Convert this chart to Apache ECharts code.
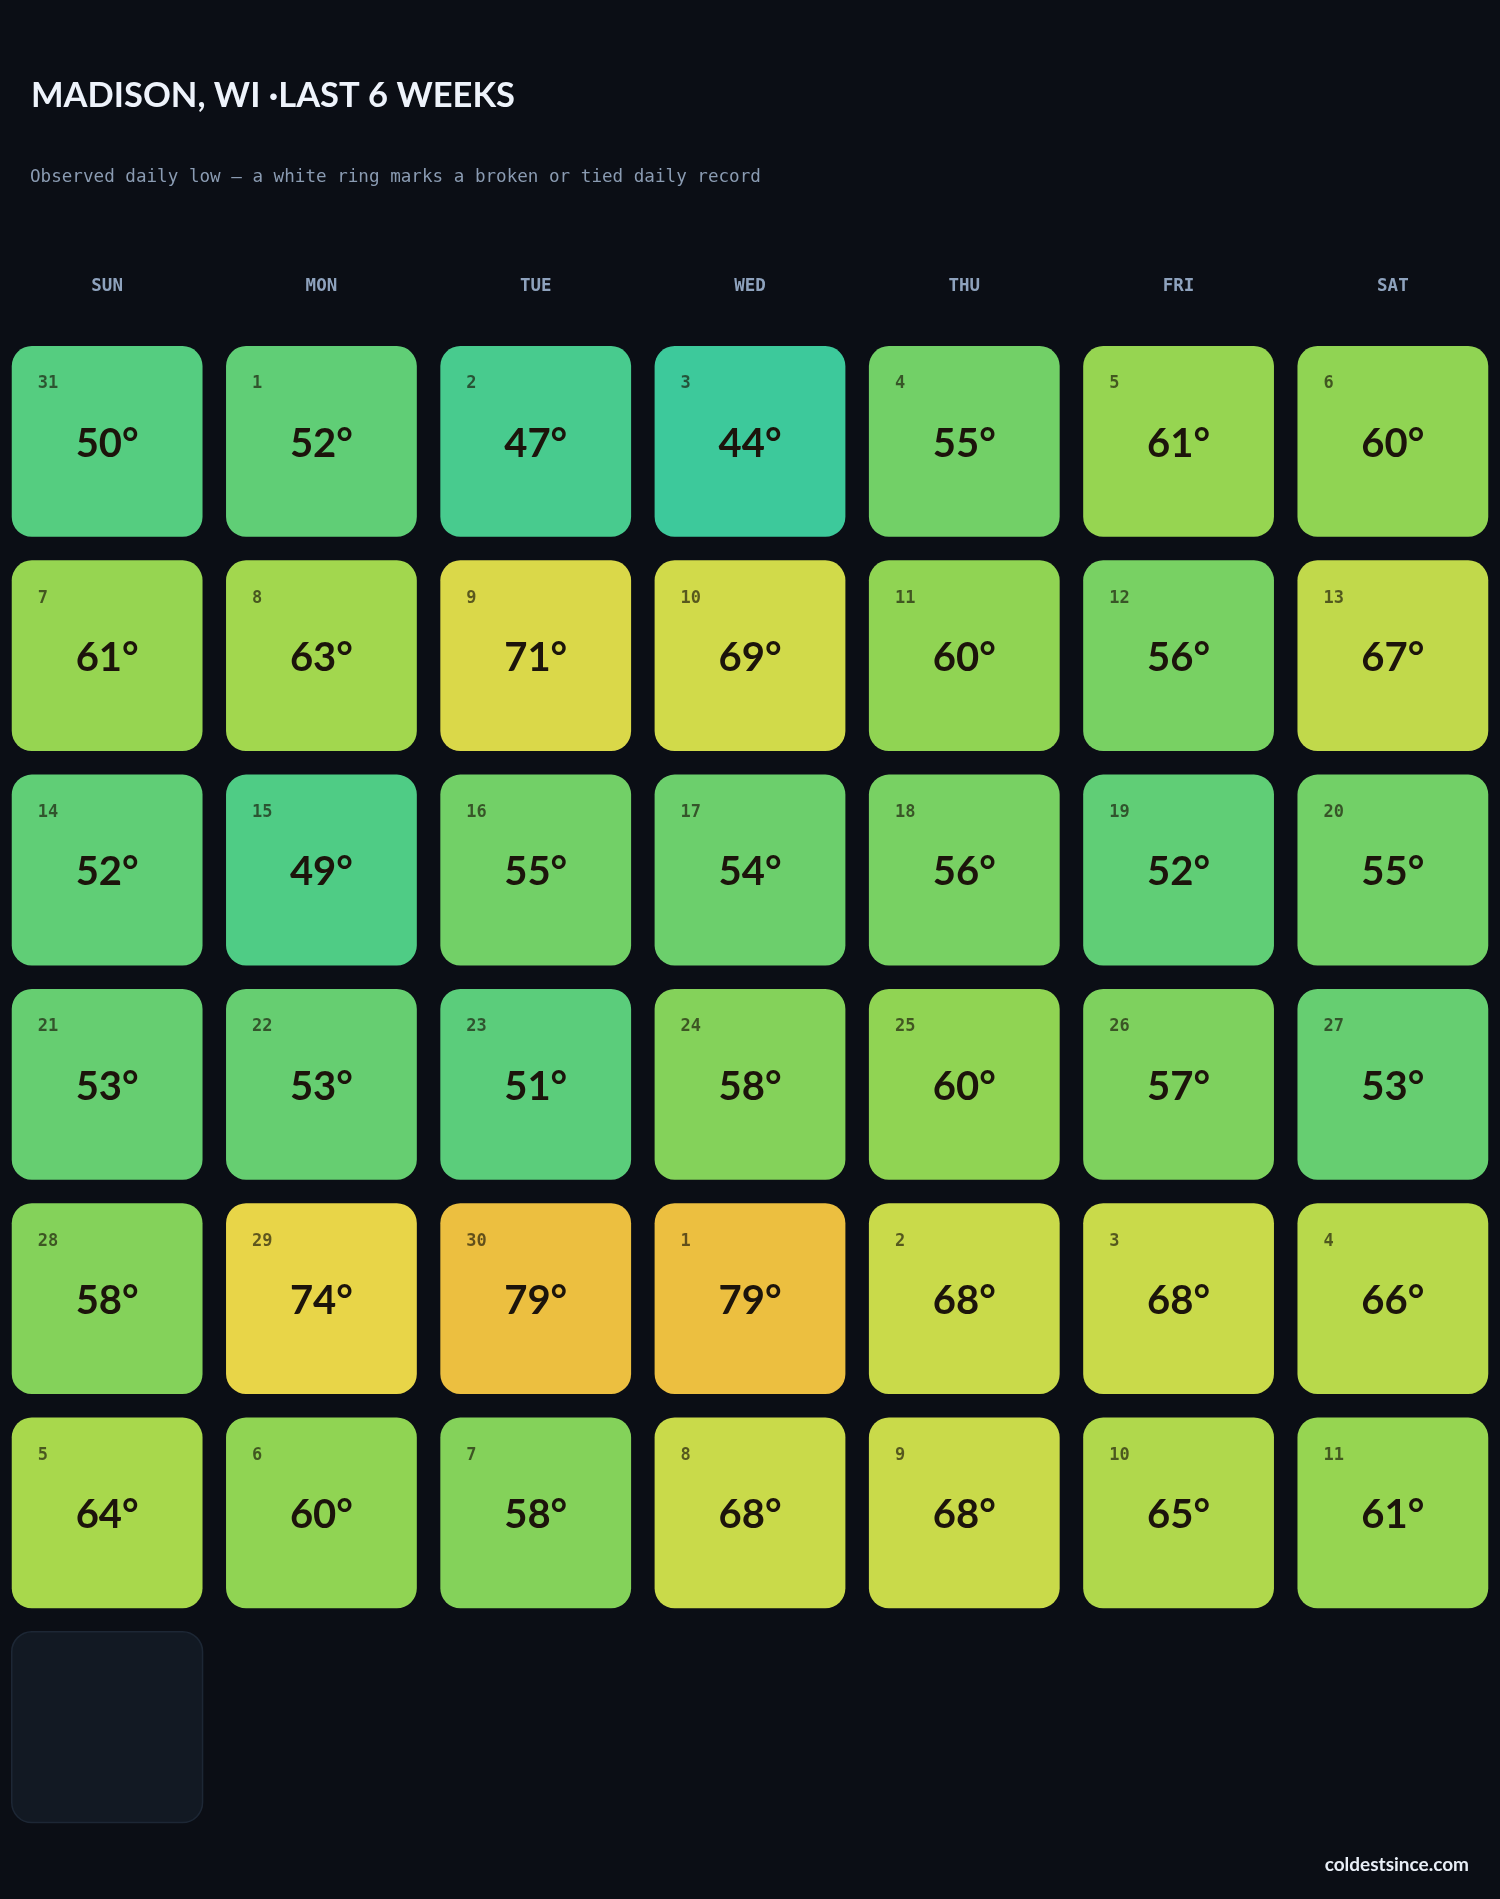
<!DOCTYPE html>
<html>
<head>
<meta charset="utf-8">
<title>Madison, WI · last 6 weeks</title>
<script src="https://cdn.jsdelivr.net/npm/echarts@6/dist/echarts.min.js"></script>
<style>
  html, body { margin: 0; padding: 0; background: #0b0e15; }
  #chart { width: 1500px; height: 1899px; }
</style>
</head>
<body>
<div id="chart"></div>
<script>
// weekday headers (x axis)
const weekdays = ['SUN', 'MON', 'TUE', 'WED', 'THU', 'FRI', 'SAT']
// weeks shown top to bottom (y axis) - last row is the current, unfinished week
const weeks = ['W1', 'W2', 'W3', 'W4', 'W5', 'W6', 'W7']
// day of month for each cell, Sunday first
const dayNumbers = [
  31, 1, 2, 3, 4, 5, 6,
  7, 8, 9, 10, 11, 12, 13,
  14, 15, 16, 17, 18, 19, 20,
  21, 22, 23, 24, 25, 26, 27,
  28, 29, 30, 1, 2, 3, 4,
  5, 6, 7, 8, 9, 10, 11,
  12
]
// observed daily low, °F (null = not observed yet)
const lows = [
  50, 52, 47, 44, 55, 61, 60,
  61, 63, 71, 69, 60, 56, 67,
  52, 49, 55, 54, 56, 52, 55,
  53, 53, 51, 58, 60, 57, 53,
  58, 74, 79, 79, 68, 68, 66,
  64, 60, 58, 68, 68, 65, 61,
  null
]
// colour ramp for the lows, from coolest to warmest
const rampMin = 44
const rampMax = 79
const rampColors = ['#3dc99b', '#4fcc85', '#6ccf6c', '#8ad355', '#a8d84c', '#d1da4a', '#e8d548', '#ecbf40']

const cellData = dayNumbers.map((d, i) => [i % 7, Math.floor(i / 7), lows[i], d])

const chart = echarts.init(document.getElementById('chart'))

const renderCell = (params, api) => {
  const center = api.coord([api.value(0), api.value(1)])
  const size = api.size([1, 1])
  const w = size[0] - 23.5
  const h = size[1] - 23.5
  const x0 = center[0] - w / 2
  const y0 = center[1] - h / 2
  const low = api.value(2)
  if (low == null || isNaN(low)) {
    return {
      type: 'rect',
      shape: { x: x0, y: y0, width: w, height: h, r: 20 },
      style: { fill: '#121923', stroke: '#1d2735', lineWidth: 1.5 }
    }
  }
  return {
    type: 'group',
    children: [
      {
        type: 'rect',
        shape: { x: x0, y: y0, width: w, height: h, r: 20 },
        style: { fill: api.visual('color') }
      },
      {
        type: 'text',
        style: {
          x: x0 + 26,
          y: y0 + 38,
          text: String(api.value(3)),
          fill: 'rgba(24, 22, 8, 0.66)',
          font: 'bold 17px "DejaVu Sans Mono", monospace',
          verticalAlign: 'middle',
          align: 'left'
        }
      },
      {
        type: 'text',
        style: {
          x: center[0],
          y: center[1] + 2.5,
          text: low + '°',
          fill: '#1c140b',
          font: 'bold 40px Lato, "Noto Sans", sans-serif',
          verticalAlign: 'middle',
          align: 'center'
        }
      }
    ]
  }
}

const option = {
  backgroundColor: '#0b0e15',
  animation: false,
  title: [
    {
      text: 'MADISON, WI ·LAST 6 WEEKS',
      left: 26,
      top: 73,
      textStyle: { color: '#eef3fb', fontFamily: 'Lato', fontWeight: 'bold', fontSize: 34.5 }
    },
    {
      text: 'Observed daily low — a white ring marks a broken or tied daily record',
      left: 25,
      top: 163.5,
      textStyle: { color: '#8a9bb2', fontFamily: 'DejaVu Sans Mono', fontWeight: 'normal', fontSize: 17.6 }
    },
    {
      text: 'coldestsince.com',
      right: 26,
      top: 1850,
      textStyle: { color: '#e8eef6', fontFamily: 'Lato', fontWeight: 'bold', fontSize: 19 }
    }
  ],
  grid: {
    left: 0,
    right: 0,
    top: 334.3,
    height: 1500
  },
  xAxis: {
    type: 'category',
    data: weekdays,
    position: 'top',
    axisLine: { show: false },
    axisTick: { show: false },
    splitLine: { show: false },
    axisLabel: {
      color: '#8ea2bd',
      fontFamily: 'DejaVu Sans Mono',
      fontWeight: 'bold',
      fontSize: 17.5,
      margin: 48,
      verticalAlign: 'middle'
    }
  },
  yAxis: {
    type: 'category',
    data: weeks,
    inverse: true,
    show: false
  },
  visualMap: {
    show: false,
    type: 'continuous',
    min: rampMin,
    max: rampMax,
    dimension: 2,
    seriesIndex: 0,
    inRange: { color: rampColors }
  },
  series: [
    {
      type: 'custom',
      renderItem: renderCell,
      encode: { x: 0, y: 1 },
      data: cellData
    }
  ]
}

chart.setOption(option)
</script>
</body>
</html>
